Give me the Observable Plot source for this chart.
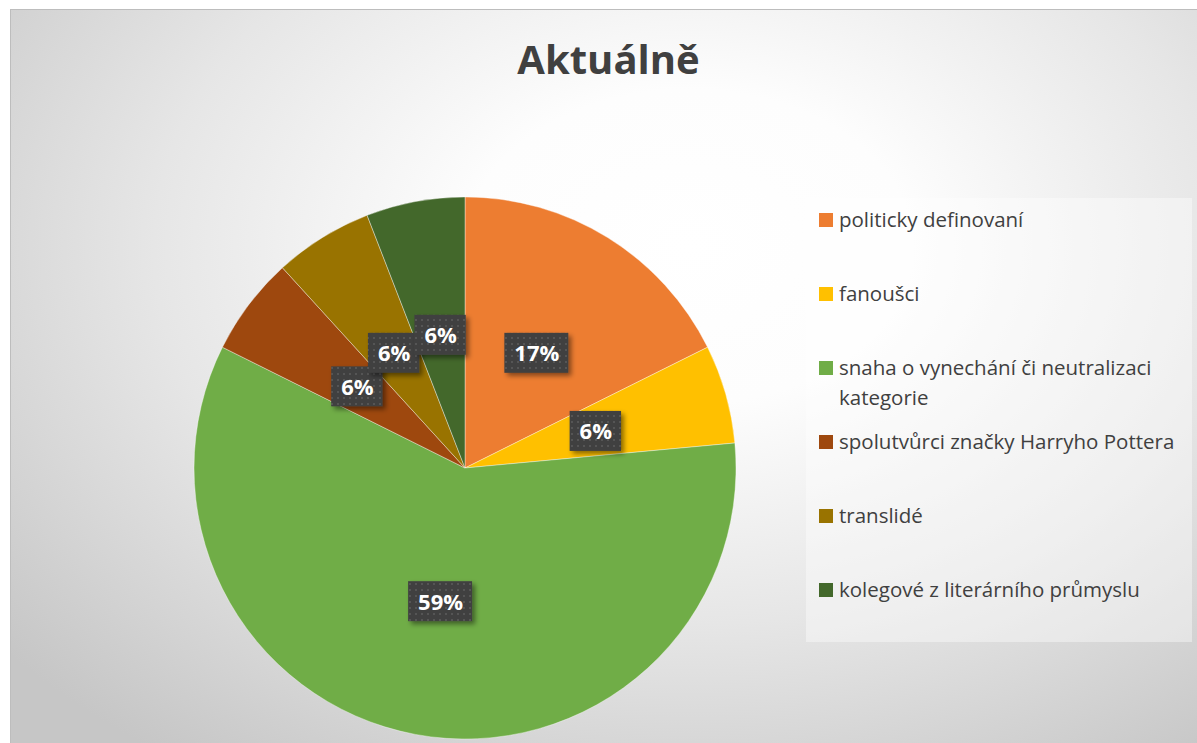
<!DOCTYPE html>
<html>
<head>
<meta charset="utf-8">
<script src="https://cdn.jsdelivr.net/npm/d3@7"></script>
<script src="https://cdn.jsdelivr.net/npm/@observablehq/plot@0.6"></script>
<style>
  html, body { margin: 0; padding: 0; background: #ffffff; }
  #wrap { position: relative; width: 1197px; height: 743px; overflow: hidden; font-family: "Open Sans", sans-serif; }
  #bg { position: absolute; left: 10px; top: 9px; width: 1190px; height: 740px;
        border-top: 1px solid #bdbdbd; border-left: 1px solid #bdbdbd;
        background: radial-gradient(ellipse 75% 85% at 57% 32%, #ffffff 0%, #fdfdfd 25%, #e6e6e6 60%, #c6c6c6 100%); }
  #title { position: absolute; left: 0; width: 1217px; top: 39px; text-align: center; font-size: 40px; line-height: 40px;
           font-weight: 700; color: #404040; }
  #chart { position: absolute; left: 0; top: 0; }
  #legend { position: absolute; left: 806px; top: 198px; width: 386px; height: 444px; background: rgba(255,255,255,0.4); }
  .sw { position: absolute; left: 13px; width: 14px; height: 14px; }
  .lab { position: absolute; left: 33px; width: 348px; font-size: 20.5px; line-height: 30px; color: #404040; }
</style>
</head>
<body>
<div id="wrap">
  <div id="bg"></div>
  <div id="chart"></div>
  <div id="title"></div>
  <div id="legend"></div>
</div>
<script>
const title = "Aktuálně";
const categories = [
  "politicky definovaní",
  "fanoušci",
  "snaha o vynechání či neutralizaci kategorie",
  "spolutvůrci značky Harryho Pottera",
  "translidé",
  "kolegové z literárního průmyslu"
];
// slice sizes
const counts = [3, 1, 10, 1, 1, 1];
// percentage labels as printed on the chart
const percentLabels = ["17%", "6%", "59%", "6%", "6%", "6%"];
const colors = ["#ED7D31", "#FFC000", "#70AD47", "#9E480E", "#997300", "#43682B"];

const data = categories.map((c, i) => ({category: c, value: counts[i], color: colors[i], label: percentLabels[i]}));
const arcs = d3.pie().sort(null).value(d => d.value)(data);
const unitArc = d3.arc().innerRadius(0).outerRadius(1);
const labels = arcs.map(a => {
  const [cx, cy] = unitArc.centroid(a);
  return {x: cx, y: -cy, text: a.data.label};
});

document.getElementById("title").textContent = title;

const ctx = document.createElement("canvas").getContext("2d");
ctx.font = "700 22px 'Open Sans'";
const ns = "http://www.w3.org/2000/svg";

function wedges(index, scales) {
  const g = document.createElementNS(ns, "g");
  g.innerHTML = `<defs>
    <pattern id="dots" width="6" height="6" patternUnits="userSpaceOnUse">
      <rect width="6" height="6" fill="#404040"/>
      <rect x="1" y="1" width="2" height="2" fill="#555555"/>
    </pattern>
    <filter id="shadow" x="-30%" y="-30%" width="160%" height="160%">
      <feDropShadow dx="3" dy="3" stdDeviation="2.5" flood-color="#000" flood-opacity="0.45"/>
    </filter>
  </defs>`;
  const cx = scales.x(0), cy = scales.y(0);
  const r = scales.x(1) - scales.x(0);
  const arc = d3.arc().innerRadius(0).outerRadius(r);
  for (const a of arcs) {
    const p = document.createElementNS(ns, "path");
    p.setAttribute("d", arc(a));
    p.setAttribute("transform", `translate(${cx},${cy})`);
    p.setAttribute("fill", a.data.color);
    p.setAttribute("stroke", "#ffffff");
    p.setAttribute("stroke-opacity", "0.5");
    p.setAttribute("stroke-width", "0.75");
    g.appendChild(p);
  }
  return g;
}

function boxFor(l) {
  return (index, scales) => {
    const w = ctx.measureText(l.text).width + 19;
    const h = 40;
    const x = scales.x(l.x), y = scales.y(l.y);
    const rect = document.createElementNS(ns, "rect");
    rect.setAttribute("x", x - w / 2);
    rect.setAttribute("y", y - h / 2);
    rect.setAttribute("width", w);
    rect.setAttribute("height", h);
    rect.setAttribute("fill", "url(#dots)");
    rect.setAttribute("filter", "url(#shadow)");
    return rect;
  };
}

const chart = Plot.plot({
  width: 1197,
  height: 743,
  margin: 0,
  style: {background: "transparent", overflow: "visible"},
  x: {domain: [-1, 1], range: [465 - 271, 465 + 271], axis: null},
  y: {domain: [-1, 1], range: [468 + 271, 468 - 271], axis: null},
  marks: [
    wedges,
    ...labels.map(l => [
      boxFor(l),
      Plot.text([l], {x: "x", y: "y", text: "text", fill: "white", fontSize: 22, fontWeight: 700,
                      fontFamily: "Open Sans", textAnchor: "middle", dy: 1})
    ]).flat()
  ]
});
document.getElementById("chart").appendChild(chart);

const legend = document.getElementById("legend");
categories.forEach((c, i) => {
  const yc = 220 + 74 * i - 198;
  const sw = document.createElement("div");
  sw.className = "sw";
  sw.style.top = (yc - 7) + "px";
  sw.style.background = colors[i];
  const lab = document.createElement("div");
  lab.className = "lab";
  lab.style.top = (yc - 16) + "px";
  lab.textContent = c;
  legend.appendChild(sw);
  legend.appendChild(lab);
});
</script>
</body>
</html>
